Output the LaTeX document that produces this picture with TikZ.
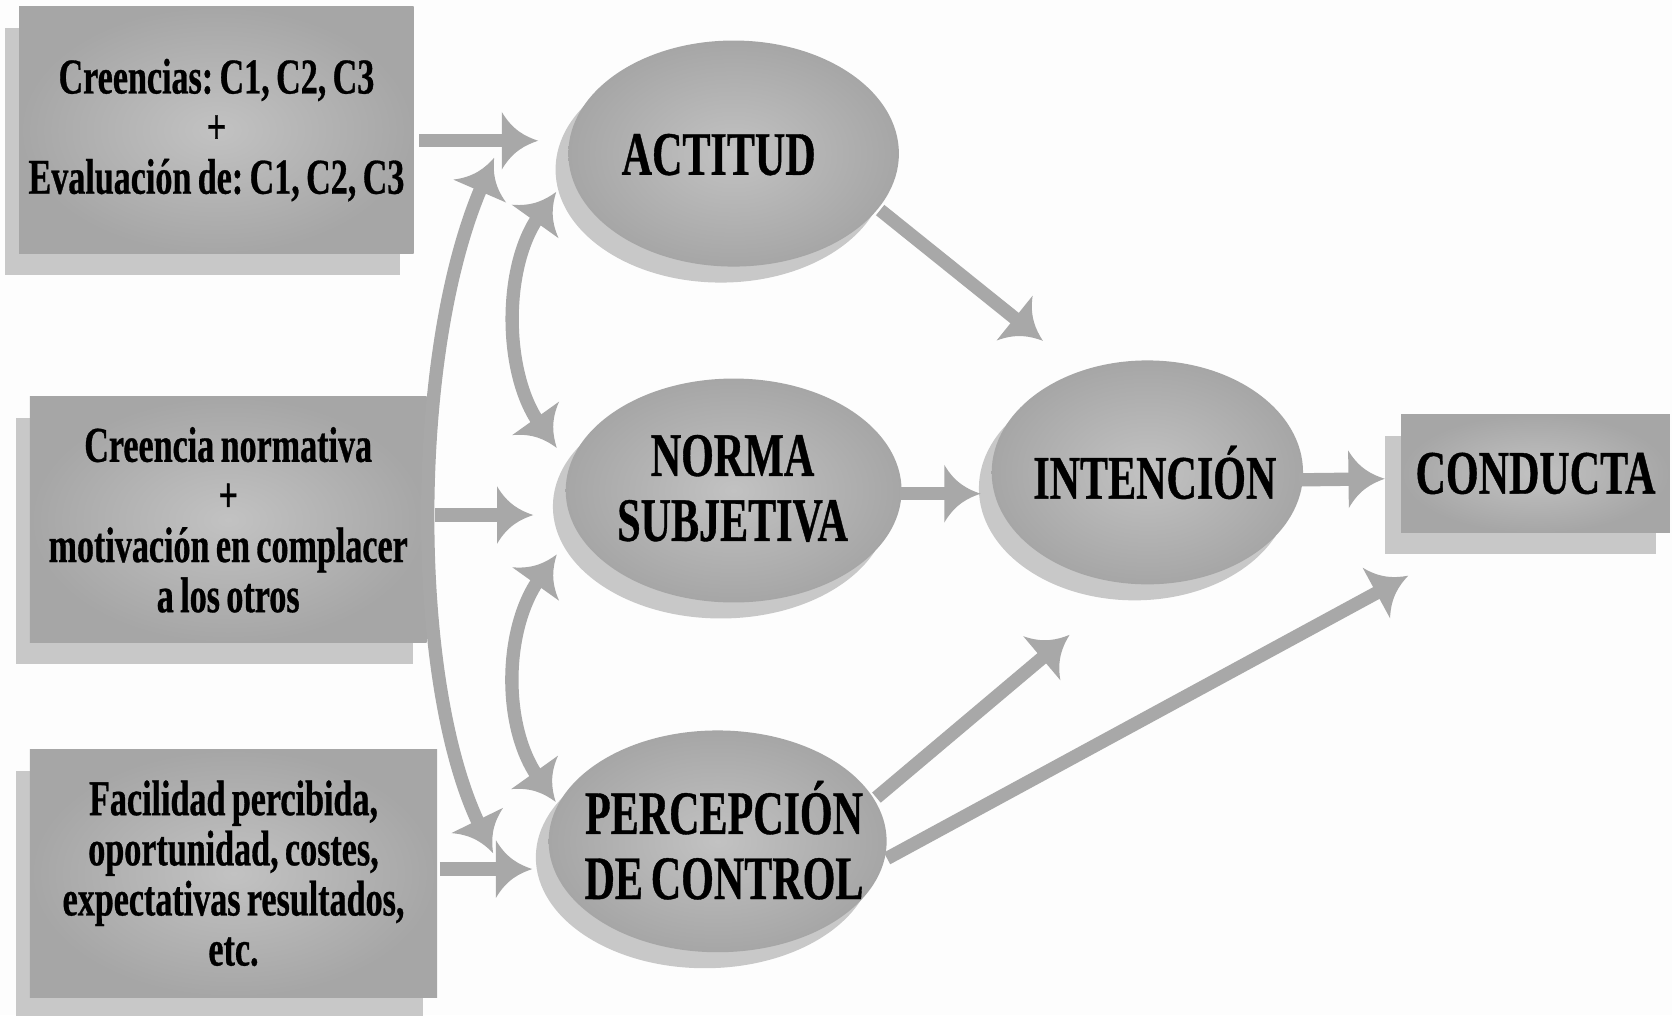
\documentclass[tikz,border=0pt]{standalone}
\usepackage{fontspec}
\setmainfont{Liberation Serif}[FakeStretch=0.68,FakeBold=0.6,WordSpace=0.75]
\frenchspacing
\usetikzlibrary{shapes.geometric,shadows,calc,arrows.meta}
\definecolor{bgc}{HTML}{FDFDFD}
\definecolor{fillout}{HTML}{A6A6A6}
\definecolor{fillin}{HTML}{C2C2C2}
\definecolor{shadowc}{HTML}{C8C8C8}
\definecolor{arrowc}{HTML}{A8A8A8}
\pgfdeclarearrow{
  name=CTri,
  setup code={
    \pgfarrowssettipend{0pt}
    \pgfarrowssetlineend{-14pt}
    \pgfarrowssetbackend{-17pt}
    \pgfarrowssetvisualbackend{-17pt}
    \pgfarrowshullpoint{0pt}{0pt}
    \pgfarrowshullpoint{-17pt}{13.5pt}
    \pgfarrowshullpoint{-17pt}{-13.5pt}
  },
  drawing code={
    \pgfpathmoveto{\pgfpointorigin}
    \pgfpathcurveto{\pgfpoint{-6pt}{2pt}}{\pgfpoint{-12pt}{5pt}}{\pgfpoint{-17pt}{13.5pt}}
    \pgfpathlineto{\pgfpoint{-17pt}{-13.5pt}}
    \pgfpathcurveto{\pgfpoint{-12pt}{-5pt}}{\pgfpoint{-6pt}{-2pt}}{\pgfpointorigin}
    \pgfpathclose
    \pgfusepathqfill
  },
}
\tikzset{
  boxnode/.style={rectangle, minimum width=#1, inner sep=0pt, align=center,
    shade, inner color=fillin, outer color=fillout,
    drop shadow={shadow xshift=-6.5pt, shadow yshift=-10pt, fill=shadowc, opacity=1},
    font=\bfseries\fontsize{23.5}{23.5}\selectfont},
  ellnode/.style={ellipse, inner sep=0pt,
    shade, inner color=fillin, outer color=fillout,
    drop shadow={shadow xshift=-6pt, shadow yshift=-7.5pt, fill=shadowc, opacity=1}},
  elltext/.style={inner sep=0pt, align=center, font=\bfseries\fontsize{29}{30.5}\selectfont},
  conn/.style={color=arrowc, line width=6.25pt, -{CTri}},
  dconn/.style={color=arrowc, line width=6.25pt, {CTri}-{CTri}},
}
\begin{document}
\begin{tikzpicture}[x=0.5pt,y=-0.5pt]
\fill[bgc] (0,0) rectangle (1568,952);
\useasboundingbox (0,0) rectangle (1568,952);

\node[boxnode=185pt, minimum height=116pt] (b1) at (203,122)
  {Creencias: C1, C2, C3\\+\\Evaluación de: C1, C2, C3};
\node[boxnode=186pt, minimum height=115.5pt] (b2) at (214,487.5)
  {Creencia normativa\\+\\motivación en complacer\\a los otros};
\node[boxnode=191pt, minimum height=116pt] (b3) at (219,819)
  {Facilidad percibida,\\oportunidad, costes,\\expectativas resultados,\\etc.};

\node[ellnode, minimum width=155pt, minimum height=106pt] (act) at (688,144) {};
\node[ellnode, minimum width=157.5pt, minimum height=105pt] (norm) at (688,460) {};
\node[ellnode, minimum width=158.5pt, minimum height=104pt] (perc) at (673,789) {};
\node[ellnode, minimum width=146pt, minimum height=105pt] (int) at (1076,443) {};

\node[elltext] (actT) at (674,145) {ACTITUD};
\node[elltext] (normT) at (687,458) {NORMA\\SUBJETIVA};
\node[elltext] (percT) at (679,788) {PERCEPCIÓN\\DE CONTROL};
\node[elltext] (intT) at (1083,443) {INTENCIÓN};

\node[boxnode=126pt, minimum height=55.5pt, font=\bfseries\fontsize{29}{30}\selectfont,
  drop shadow={shadow xshift=-7.5pt, shadow yshift=-10pt, fill=shadowc, opacity=1}] (cond) at (1440,444) {CONDUCTA};

% straight connectors
\draw[conn] ($(b1.east)+(5,10)$) -- ($(act.west)+(-28,-12)$);
\draw[conn] ($(b2.east)+(8,-4.5)$) -- ($(norm.west)+(-30,23)$);
\draw[conn] ($(b3.east)+(2,-4)$) -- ($(perc.west)+(-15,26)$);
\draw[conn] ($(act.east)+(-18,53)$) -- ($(int.north)+(-98,-18)$);
\draw[conn] ($(norm.east)+(-2,3)$) -- ($(int.west)+(-10,20)$);
\draw[conn] ($(int.east)+(-4,7)$) -- ($(cond.west)+(-15,5)$);
\draw[conn] ($(perc.east)+(-10,-41)$) -- ($(int.south)+(-73,47)$);
\draw[conn] ($(perc.east)+(0,16)$) -- ($(cond.south west)+(7,40)$);

% curved double connectors
\draw[dconn] ($(b1.east)+(75,26)$) .. controls +(-79,182) and +(-78,-160) .. ($(b3.east)+(52,-19)$);
\draw[dconn] ($(act.west)+(-11,36)$) .. controls +(-50,70) and +(-50,-70) .. ($(norm.west)+(-8,-40)$);
\draw[dconn] ($(norm.west)+(-8,60)$) .. controls +(-50,70) and +(-50,-70) .. ($(perc.west)+(7,-37)$);
\end{tikzpicture}
\end{document}
